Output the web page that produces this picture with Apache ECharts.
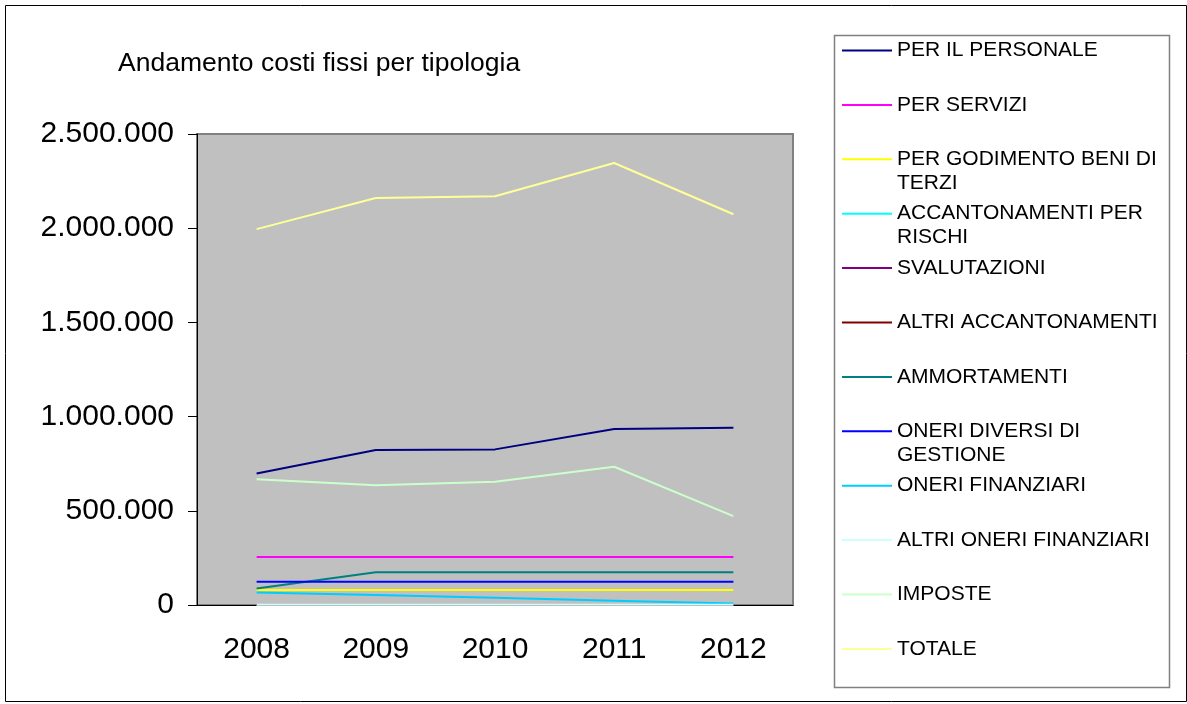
<!DOCTYPE html>
<html><head><meta charset="utf-8">
<script src="https://cdn.jsdelivr.net/npm/echarts@6/dist/echarts.min.js"></script>
<style>html,body{margin:0;padding:0;background:#fff}#c{width:1187px;height:704px}</style>
</head><body><div id="c"></div>
<script>
// ---- data ----
const categories = ['2008', '2009', '2010', '2011', '2012'];
const seriesNames = [
  'PER IL PERSONALE', 'PER SERVIZI', 'PER GODIMENTO BENI DI TERZI',
  'ACCANTONAMENTI PER RISCHI', 'SVALUTAZIONI', 'ALTRI ACCANTONAMENTI',
  'AMMORTAMENTI', 'ONERI DIVERSI DI GESTIONE', 'ONERI FINANZIARI',
  'ALTRI ONERI FINANZIARI', 'IMPOSTE', 'TOTALE'
];
const perIlPersonale       = [698000, 823000, 826000, 934000, 941000];
const perServizi           = [255000, 255000, 255000, 255000, 255000];
const perGodimentoBeni     = [80000, 80000, 80000, 80000, 80000];
const accantonamentiRischi = [0, 0, 0, 0, 0];
const svalutazioni         = [0, 0, 0, 0, 0];
const altriAccantonamenti  = [0, 0, 0, 0, 0];
const ammortamenti         = [87000, 174000, 174000, 174000, 174000];
const oneriDiversi         = [124000, 124000, 124000, 124000, 124000];
const oneriFinanziari      = [67000, 53000, 38000, 23000, 8000];
const altriOneriFinanziari = [1000, 1000, 1000, 1000, 1000];
const imposte              = [668000, 635000, 654000, 734000, 472000];
const totale               = [1995000, 2160000, 2170000, 2346000, 2074000];
const yMin = 0, yMax = 2500000, yInterval = 500000;
const chartTitle = 'Andamento costi fissi per tipologia';
const legendBreaks = {
  'PER GODIMENTO BENI DI TERZI': 'PER GODIMENTO BENI DI\nTERZI',
  'ACCANTONAMENTI PER RISCHI': 'ACCANTONAMENTI PER\nRISCHI',
  'ONERI DIVERSI DI GESTIONE': 'ONERI DIVERSI DI\nGESTIONE'
};

// ---- styles ----
const colors = ['#000080', '#FF00FF', '#FFFF00', '#00FFFF', '#800080', '#800000',
                '#008080', '#0000FF', '#00CCFF', '#CCFFFF', '#CCFFCC', '#FFFF99'];
const values = [perIlPersonale, perServizi, perGodimentoBeni, accantonamentiRischi,
  svalutazioni, altriAccantonamenti, ammortamenti, oneriDiversi, oneriFinanziari,
  altriOneriFinanziari, imposte, totale];
const FONT = 'Liberation Sans, Arial, sans-serif';

const chart = echarts.init(document.getElementById('c'));
chart.setOption({
  animation: false,
  backgroundColor: '#fff',
  title: {
    text: chartTitle, left: 118, top: 50, padding: 0,
    textStyle: {fontFamily: FONT, fontSize: 26.5, fontWeight: 'normal', color: '#000'}
  },
  graphic: [
    {type: 'rect', shape: {x: 5.5, y: 5.5, width: 1181, height: 696},
     style: {fill: 'none', stroke: '#000', lineWidth: 1}, z: -1, silent: true},
    {type: 'rect', shape: {x: 834.5, y: 35.5, width: 335, height: 652},
     style: {fill: 'none', stroke: '#808080', lineWidth: 1.5}, z: -1, silent: true}
  ],
  legend: seriesNames.map((n, i) => ({
    data: [n], left: 842, top: 38.5 + 54.4 * i - (legendBreaks[n] ? 24 : 0), padding: 0,
    icon: 'rect', itemWidth: 50, itemHeight: 2, selectedMode: false,
    formatter: name => legendBreaks[name] ? '\n' + legendBreaks[name] : name,
    textStyle: {fontFamily: FONT, fontSize: 21, lineHeight: 24, color: '#000'}
  })),
  grid: {
    left: 197, right: 394, top: 134, bottom: 99, show: true,
    backgroundColor: '#C0C0C0', borderColor: '#808080', borderWidth: 2
  },
  xAxis: {
    type: 'category', data: categories, boundaryGap: true,
    axisLine: {lineStyle: {color: '#000', width: 1}},
    axisTick: {length: 9, lineStyle: {color: '#000'}},
    axisLabel: {fontFamily: FONT, fontSize: 30, color: '#000', margin: 30},
    splitLine: {show: false}
  },
  yAxis: {
    type: 'value', min: yMin, max: yMax, interval: yInterval,
    axisLine: {show: true, lineStyle: {color: '#000', width: 1}},
    axisTick: {show: true, length: 9, lineStyle: {color: '#000'}},
    axisLabel: {fontFamily: FONT, fontSize: 30, color: '#000', margin: 23,
      formatter: v => String(v).replace(/\B(?=(\d{3})+(?!\d))/g, '.')},
    splitLine: {show: false}
  },
  series: seriesNames.map((n, i) => ({
    name: n, type: 'line', data: values[i], symbol: 'none', showSymbol: false,
    color: colors[i], lineStyle: {color: colors[i], width: 2}, silent: true
  }))
});
</script></body></html>
